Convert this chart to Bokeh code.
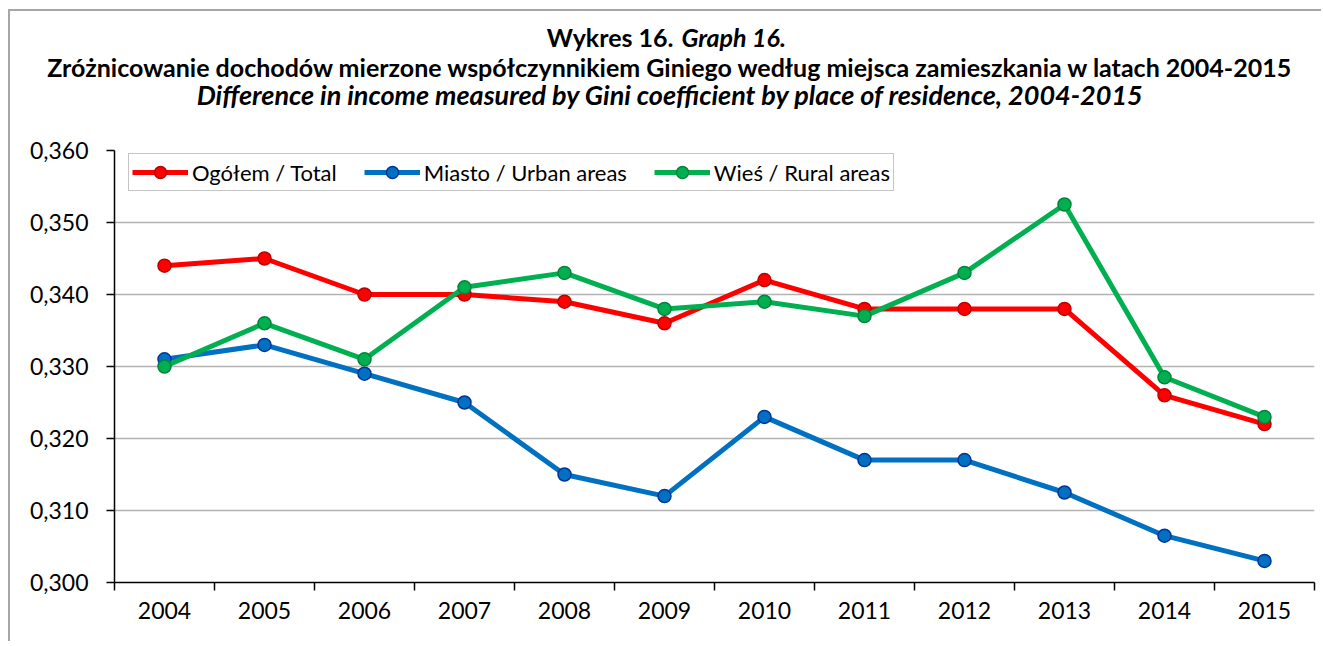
from bokeh.plotting import figure
from bokeh.layouts import column
from bokeh.models import (Range1d, FixedTicker, CustomJSTickFormatter,
                          Label, Legend, LegendItem, Plot)
from bokeh.embed import file_html
from bokeh.resources import INLINE

years = ["2004", "2005", "2006", "2007", "2008", "2009", "2010", "2011", "2012", "2013", "2014", "2015"]
total = [0.344, 0.345, 0.340, 0.340, 0.339, 0.336, 0.342, 0.338, 0.338, 0.338, 0.326, 0.322]
urban = [0.331, 0.333, 0.329, 0.325, 0.315, 0.312, 0.323, 0.317, 0.317, 0.3125, 0.3065, 0.303]
rural = [0.330, 0.336, 0.331, 0.341, 0.343, 0.338, 0.339, 0.337, 0.343, 0.3525, 0.3285, 0.323]
y_ticks = [0.30, 0.31, 0.32, 0.33, 0.34, 0.35, 0.36]

series = [
    ("Ogółem / Total", total, "#FF0000", "#C00000"),
    ("Miasto / Urban areas", urban, "#0070C0", "#00349A"),
    ("Wieś / Rural areas", rural, "#00B050", "#00853A"),
]

FONT = "Lato"
W = 1311
xs = [i + 0.5 for i in range(len(years))]
bounds = list(range(len(years) + 1))

# ---------- title figure ----------
TH = 125
t = figure(width=W, height=TH, output_backend="svg", toolbar_location=None,
           x_range=Range1d(0, W), y_range=Range1d(0, TH),
           x_axis_location=None, y_axis_location=None,
           min_border=0, title=None)
t.grid.visible = False
t.outline_line_color = None
t.background_fill_color = "white"
t.border_fill_color = "white"
if "frame_align" in Plot.properties():
    t.frame_align = False

def title_label(x, y, text, style, size, align):
    return Label(x=x, y=y, x_units="screen", y_units="screen", text=text,
                 text_font=FONT, text_font_style=style, text_font_size=size,
                 text_align=align, text_baseline="alphabetic", text_color="black")

t.add_layout(title_label(663, 100, "Wykres 16.", "bold", "25px", "right"))
t.add_layout(title_label(671, 100, "Graph 16.", "bold italic", "25px", "left"))
t.add_layout(title_label(660, 70,
             "Zróżnicowanie dochodów mierzone współczynnikiem Giniego według miejsca zamieszkania w latach 2004-2015",
             "bold", "25px", "center"))
t.add_layout(title_label(660, 42,
             "Difference in income measured by Gini coefficient by place of residence, 2004-2015",
             "bold italic", "27px", "center"))

# ---------- main figure ----------
p = figure(width=W, height=505, output_backend="svg", toolbar_location=None,
           x_range=Range1d(0, len(years)), y_range=Range1d(0.30, 0.36),
           min_border_left=104, min_border_right=7, min_border_top=14, min_border_bottom=59,
           title=None)
p.outline_line_color = None
p.background_fill_color = "white"
p.border_fill_color = "white"
if "frame_align" in Plot.properties():
    p.frame_align = False

p.yaxis.ticker = FixedTicker(ticks=y_ticks)
p.yaxis.formatter = CustomJSTickFormatter(code="return tick.toFixed(3).replace('.', ',');")
p.yaxis.axis_line_color = "black"
p.yaxis.axis_line_width = 1.5
p.yaxis.major_tick_line_color = "black"
p.yaxis.major_tick_line_width = 1.5
p.yaxis.major_tick_out = 8
p.yaxis.major_tick_in = 0
p.yaxis.minor_tick_line_color = None
p.yaxis.major_label_text_font = FONT
p.yaxis.major_label_text_font_size = "23px"
p.yaxis.major_label_text_color = "black"
p.yaxis.major_label_standoff = 18

# x axis: labels at category centres, ticks (minor) at category boundaries
p.xaxis.ticker = FixedTicker(ticks=xs, minor_ticks=bounds)
p.xaxis.major_label_overrides = {x: y for x, y in zip(xs, years)}
p.xaxis.axis_line_color = "black"
p.xaxis.axis_line_width = 1.5
p.xaxis.major_tick_line_color = None
p.xaxis.major_tick_out = 8
p.xaxis.major_tick_in = 0
p.xaxis.minor_tick_line_color = "black"
p.xaxis.minor_tick_line_width = 1.5
p.xaxis.minor_tick_out = 8
p.xaxis.minor_tick_in = 0
p.xaxis.major_label_text_font = FONT
p.xaxis.major_label_text_font_size = "23px"
p.xaxis.major_label_text_color = "black"
p.xaxis.major_label_standoff = 11

p.xgrid.grid_line_color = None
p.ygrid.ticker = FixedTicker(ticks=y_ticks)
p.ygrid.grid_line_color = "#B3B3B3"
p.ygrid.grid_line_width = 1.5

items = []
for name, vals, col, edge in series:
    r1 = p.line(xs, vals, line_color=col, line_width=5, line_join="round")
    r2 = p.scatter(xs, vals, marker="circle", size=13, fill_color=col,
                   line_color=edge, line_width=1.5)
    items.append(LegendItem(label=name, renderers=[r1, r2]))

legend = Legend(items=items, orientation="horizontal", location=(14, 391))
legend.label_text_font = FONT
legend.label_text_font_size = "22px"
legend.label_text_color = "black"
legend.glyph_width = 56
legend.glyph_height = 30
legend.label_standoff = 4
legend.spacing = 27
legend.padding = 3
legend.margin = 0
legend.border_line_color = "#8C8C8C"
legend.border_line_width = 1.5
legend.background_fill_color = "white"
legend.background_fill_alpha = 1
p.add_layout(legend, "center")

layout = column(t, p, spacing=0,
                styles={"margin-left": "8px", "margin-top": "9px",
                        "border-top": "2px solid #A6A6A6", "border-left": "2px solid #A6A6A6"})

open("out.html", "w").write(file_html(layout, INLINE))
